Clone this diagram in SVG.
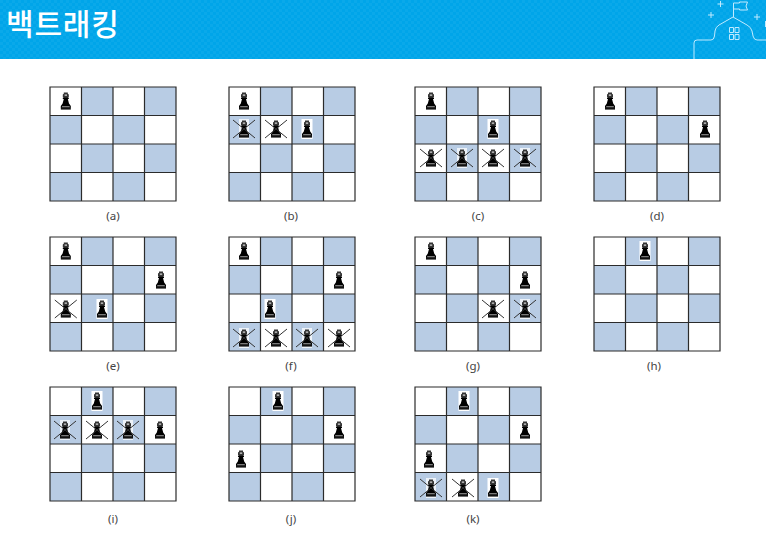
<svg xmlns="http://www.w3.org/2000/svg" xmlns:xlink="http://www.w3.org/1999/xlink" width="766" height="540" viewBox="0 0 766 540">
<style>
.cap{font-family:"Noto Sans",sans-serif;font-size:11.5px;fill:#444;text-anchor:middle}
.title{font-family:"Noto Sans CJK KR",sans-serif;font-size:30px;font-weight:500;fill:#fff;letter-spacing:.8px}
.dec{fill:none;stroke:#bfeaff;stroke-width:1}
.x{stroke:#333;stroke-width:1;fill:none}
</style>
<defs>
<pattern id="dots" width="6" height="6" patternUnits="userSpaceOnUse"><rect width="6" height="6" fill="#00a5e9"/><rect x="0" y="0" width="3" height="3" fill="#0aa9ea"/><rect x="3" y="3" width="3" height="3" fill="#0aa9ea"/></pattern>
<g id="board">
<rect width="126" height="114" fill="#fff"/>
<g fill="#b8cce4">
<rect x="31.500" width="31.500" height="28.500"/><rect x="94.500" width="31.500" height="28.500"/>
<rect y="28.500" width="31.500" height="28.500"/><rect x="63" y="28.500" width="31.500" height="28.500"/>
<rect x="31.500" y="57" width="31.500" height="28.500"/><rect x="94.500" y="57" width="31.500" height="28.500"/>
<rect y="85.500" width="31.500" height="28.500"/><rect x="63" y="85.500" width="31.500" height="28.500"/>
</g>
<path d="M0 0H126V114H0ZM31.500 0V114M63 0V114M94.500 0V114M0 28.500H126M0 57H126M0 85.500H126" fill="none" stroke="#2b2b2b" stroke-width="1.200"/>
</g>
<g id="q">
<path d="M-2-8.500h4v1.200l1 .8v2.400l-1 1h-4l-1-1v-2.400l1-.8z" fill="#333"/>
<path d="M-1.200-6.600h2.400v1.500h-2.400z" fill="#bbb"/>
<path d="M-3-3.200h6v1.200h-1l1.200 4.500 1.800 2.600v1.100h-10v-1.100l1.800-2.600 1.200-4.500h-1z" fill="#000"/>
<rect x="-5" y="6" width="10" height="2.600" fill="#111"/>
<rect x="-3.800" y="5.200" width="7.600" height="1" fill="#999"/>
</g>
<g id="qb"><rect x="-5.500" y="-10" width="11" height="20" fill="#fff"/><use xlink:href="#q" href="#q"/></g>
<g id="qx"><use xlink:href="#q" href="#q"/><path class="x" d="M-11-9 11 9M-11 9 11-9"/></g>
<g id="qbx"><rect x="-5" y="-10" width="10" height="20" fill="#fff" opacity=".75"/><use xlink:href="#q" href="#q"/><path class="x" d="M-11-9 11 9M-11 9 11-9"/></g>
</defs>
<g id="header">
<rect width="766" height="59" fill="url(#dots)"/>
<text class="title" x="6" y="35">백트래킹</text>
<path d="M694 59V43Q694 40 697 40H711Q714 40 714.500 36L715 31Q715.500 27 719 25L733 17L747 25Q751 27 752 31L753 36Q754 40 757 40H766" fill="url(#dots)" stroke="#bfeaff" stroke-width="1"/>
<path class="dec" d="M733.500 17V3M733.500 3h6v-1h8l-1.500 4 1.500 4h-8v-1h-6z"/>
<path class="dec" d="M729.500 27.500h4v5h-4zM735 27.500h4v5h-4zM729.500 34.500h4v5h-4zM735 34.500h4v5h-4z"/>
<path class="dec" d="M720.500 1v6M717.500 4h6M711 12v6M708 15h6M757 14v6M754 17h6M765.500 21v6"/>
</g>
<g id="a"><use href="#board" x="50" y="87"/><use href="#q" x="65.800" y="101"/><text class="cap" x="113" y="220">(a)</text></g>
<g id="b"><use href="#board" x="229" y="87"/><use href="#q" x="244" y="101"/><use href="#qbx" x="244" y="129"/><use href="#qx" x="276" y="129"/><use href="#qb" x="307" y="129"/><text class="cap" x="291" y="220">(b)</text></g>
<g id="c"><use href="#board" x="415" y="87"/><use href="#q" x="431" y="101"/><use href="#qb" x="493" y="129"/><use href="#qx" x="431" y="158"/><use href="#qbx" x="462" y="158"/><use href="#qx" x="493" y="158"/><use href="#qbx" x="525" y="158"/><text class="cap" x="478" y="220">(c)</text></g>
<g id="d"><use href="#board" x="594" y="87"/><use href="#q" x="610" y="101"/><use href="#q" x="705" y="129"/><text class="cap" x="657" y="220">(d)</text></g>
<g id="e"><use href="#board" x="50" y="237"/><use href="#q" x="65.800" y="251"/><use href="#q" x="161" y="280"/><use href="#qx" x="65.800" y="309"/><use href="#qb" x="102" y="309"/><text class="cap" x="113" y="370">(e)</text></g>
<g id="f"><use href="#board" x="229" y="237"/><use href="#q" x="244" y="251"/><use href="#q" x="339" y="280"/><use href="#qb" x="270" y="309"/><use href="#qbx" x="244" y="338"/><use href="#qx" x="276" y="338"/><use href="#qbx" x="307" y="338"/><use href="#qx" x="339" y="338"/><text class="cap" x="291" y="370">(f)</text></g>
<g id="g"><use href="#board" x="415" y="237"/><use href="#q" x="431" y="251"/><use href="#q" x="525" y="280"/><use href="#qx" x="493" y="309"/><use href="#qbx" x="525" y="309"/><text class="cap" x="473" y="370">(g)</text></g>
<g id="h"><use href="#board" x="594" y="237"/><use href="#qb" x="645" y="251"/><text class="cap" x="654" y="370">(h)</text></g>
<g id="i"><use href="#board" x="50" y="387"/><use href="#qb" x="97" y="401"/><use href="#qbx" x="65" y="430"/><use href="#qx" x="97" y="430"/><use href="#qbx" x="128" y="430"/><use href="#q" x="160" y="430"/><text class="cap" x="113" y="523">(i)</text></g>
<g id="j"><use href="#board" x="229" y="387"/><use href="#qb" x="278" y="401"/><use href="#q" x="339" y="430"/><use href="#q" x="241" y="459"/><text class="cap" x="291" y="523">(j)</text></g>
<g id="k"><use href="#board" x="415" y="387"/><use href="#qb" x="464" y="401"/><use href="#q" x="525" y="430"/><use href="#q" x="429" y="459"/><use href="#qbx" x="431" y="488"/><use href="#qx" x="463" y="488"/><use href="#qb" x="493" y="488"/><text class="cap" x="473" y="523">(k)</text></g>
</svg>
